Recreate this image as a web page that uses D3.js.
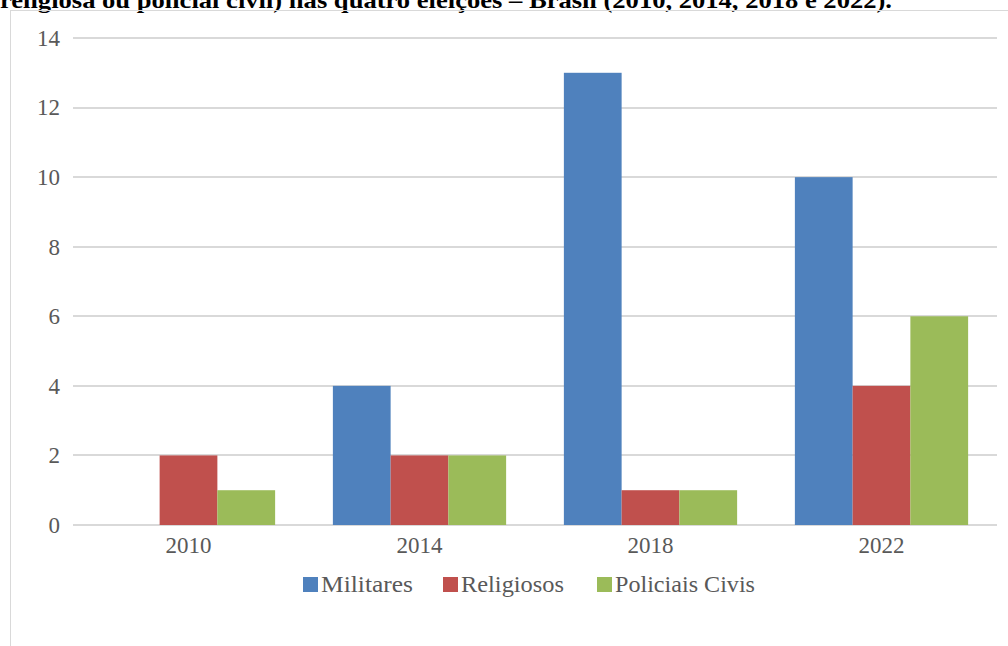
<!DOCTYPE html>
<html>
<head>
<meta charset="utf-8">
<script src="https://cdn.jsdelivr.net/npm/d3@7"></script>
<style>
  body { margin: 0; background: #fff; }
  svg { display: block; }
  text { font-family: "Liberation Serif", "DejaVu Serif", serif; }
</style>
</head>
<body>
<div id="chart"></div>
<script>
  const years = ["2010", "2014", "2018", "2022"];
  const seriesNames = ["Militares", "Religiosos", "Policiais Civis"];
  const militares = [0, 4, 13, 10];
  const religiosos = [2, 2, 1, 4];
  const policiais = [1, 2, 1, 6];
  const yTicks = [0, 2, 4, 6, 8, 10, 12, 14];
  const colors = ["#4f81bd", "#c0504d", "#9bbb59"];

  const svgWidth = 1008;
  const svgHeight = 646;

  const margin = { top: 38, right: 11, bottom: 121, left: 73 };
  const width = svgWidth - margin.left - margin.right;
  const height = svgHeight - margin.top - margin.bottom;

  const svg = d3.select("#chart")
    .append("svg")
    .attr("width", svgWidth)
    .attr("height", svgHeight);

  // title line, clipped at top like the source
  svg.append("text")
    .attr("x", 0)
    .attr("y", 8)
    .attr("font-weight", "bold")
    .attr("font-size", 24)
    .attr("textLength", 892)
    .attr("lengthAdjust", "spacingAndGlyphs")
    .attr("fill", "#000")
    .text("religiosa ou policial civil) nas quatro eleições – Brasil (2010, 2014, 2018 e 2022).");

  // chart frame
  svg.append("rect")
    .attr("x", 10.5)
    .attr("y", 10.5)
    .attr("width", 1100)
    .attr("height", 700)
    .attr("fill", "none")
    .attr("stroke", "#d9d9d9");

  const chartGroup = svg.append("g")
    .attr("transform", `translate(${margin.left}, ${margin.top})`);

  const x0 = d3.scaleBand()
    .domain(years)
    .range([0, width]);

  const groupPad = 0.125;
  const x1 = d3.scaleBand()
    .domain(seriesNames)
    .range([x0.bandwidth() * groupPad, x0.bandwidth() * (1 - groupPad)]);

  const yScale = d3.scaleLinear()
    .domain([0, 14])
    .range([height, 0]);

  // gridlines
  chartGroup.append("g")
    .selectAll("line")
    .data(yTicks)
    .enter()
    .append("line")
    .attr("x1", 0)
    .attr("x2", width)
    .attr("y1", d => Math.round(yScale(d)))
    .attr("y2", d => Math.round(yScale(d)))
    .attr("stroke", "#d9d9d9")
    .attr("stroke-width", 2);

  const leftAxis = d3.axisLeft(yScale).tickValues(yTicks).tickSize(0).tickPadding(13);
  const yAxis = chartGroup.append("g").call(leftAxis);
  yAxis.select(".domain").remove();
  yAxis.selectAll("text")
    .attr("font-family", null)
    .attr("font-size", 23)
    .attr("fill", "#595959");
  yAxis.attr("font-family", null);

  const bottomAxis = d3.axisBottom(x0).tickSize(0).tickPadding(12);
  const xAxis = chartGroup.append("g")
    .attr("transform", `translate(0, ${height})`)
    .call(bottomAxis);
  xAxis.attr("font-family", null);
  xAxis.select(".domain").remove();
  xAxis.selectAll("text")
    .attr("font-size", 23)
    .attr("fill", "#595959");

  const table = years.map((yr, i) => ({
    year: yr,
    values: [militares[i], religiosos[i], policiais[i]]
  }));

  const groups = chartGroup.selectAll(".group")
    .data(table)
    .enter()
    .append("g")
    .attr("transform", d => `translate(${x0(d.year)}, 0)`);

  groups.selectAll("rect")
    .data(d => d.values.map((v, j) => ({ name: seriesNames[j], value: v, idx: j })))
    .enter()
    .append("rect")
    .filter(d => d.value > 0)
    .attr("x", d => x1(d.name))
    .attr("y", d => yScale(d.value))
    .attr("width", x1.bandwidth())
    .attr("height", d => height - yScale(d.value))
    .attr("fill", d => colors[d.idx]);

  // legend
  const legendX = [303, 443, 597];
  const legendLen = [92, 103, 140];
  const legend = svg.append("g")
    .attr("transform", "translate(0, 584)");

  const item = legend.selectAll("g")
    .data(seriesNames)
    .enter()
    .append("g")
    .attr("transform", (d, i) => `translate(${legendX[i]}, 0)`);

  item.append("rect")
    .attr("x", 0)
    .attr("y", -7)
    .attr("width", 15)
    .attr("height", 15)
    .attr("fill", (d, i) => colors[i]);

  item.append("text")
    .attr("x", 18)
    .attr("y", 8)
    .attr("font-size", 23)
    .attr("textLength", (d, i) => legendLen[i])
    .attr("lengthAdjust", "spacingAndGlyphs")
    .attr("fill", "#595959")
    .text(d => d);
</script>
</body>
</html>
